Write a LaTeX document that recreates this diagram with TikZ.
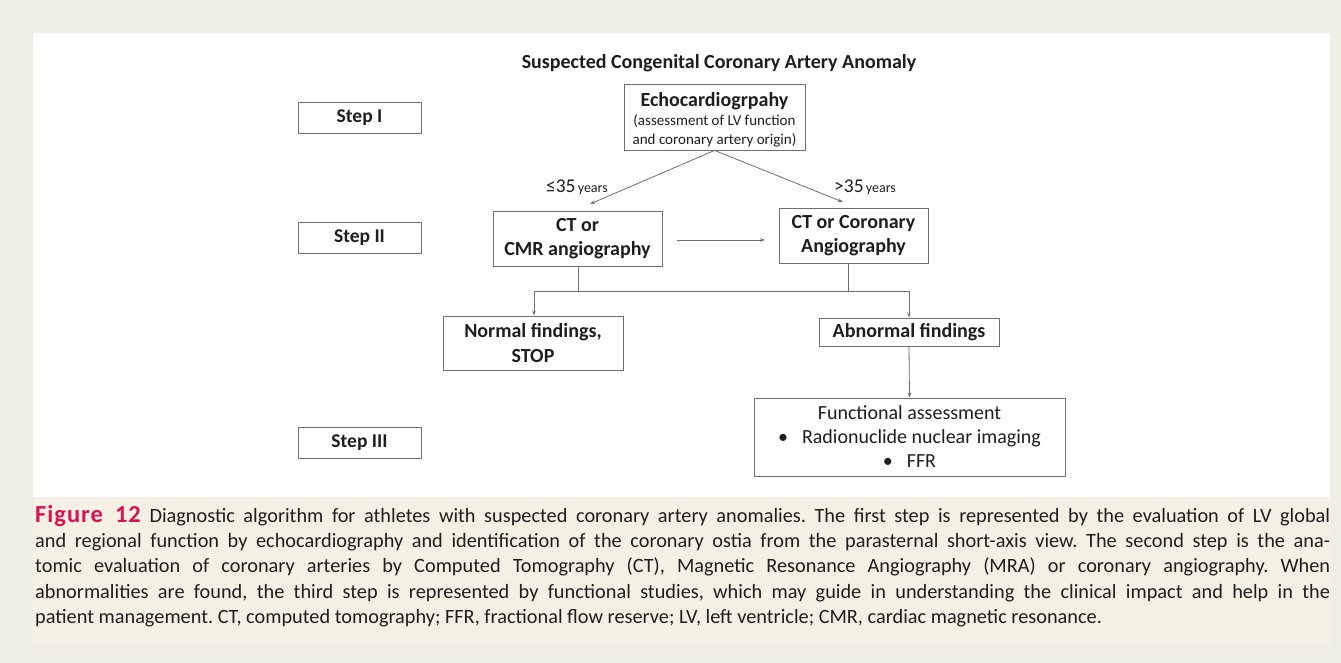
\documentclass[tikz,border=0pt]{standalone}
\usepackage{fontspec}
\setmainfont{Carlito}
\usetikzlibrary{arrows.meta}
\definecolor{outerbg}{RGB}{239,238,228}
\definecolor{capbg}{RGB}{244,241,228}
\definecolor{boxline}{RGB}{110,110,110}
\definecolor{txt}{RGB}{30,30,30}
\definecolor{figred}{RGB}{214,20,82}
\tikzset{
  box/.style={draw=boxline, line width=0.9pt, fill=white, text=txt, align=center, inner sep=0pt},
  stepbox/.style={box, minimum width=123pt, minimum height=31pt, font=\fontsize{19.5}{22}\selectfont\bfseries},
  bigbold/.style={font=\fontsize{20}{24.5}\selectfont\bfseries},
  conn/.style={draw=boxline, line width=0.8pt},
  arr/.style={conn, -{Stealth[length=5pt,width=3.5pt]}},
}
\begin{document}
\begin{tikzpicture}[x=1pt,y=-1pt]
\useasboundingbox (0,0) rectangle (1341,663);
\fill[outerbg] (0,0) rectangle (1341,663);
\fill[white] (33,33) rectangle (1330,497);
\fill[capbg] (33,497) rectangle (1331,645);

% steps
\node[stepbox] (s1) at (359.5,117.5) {Step I};
\node[stepbox] (s2) at (359.5,238) {Step II};
\node[stepbox] (s3) at (359.5,443) {Step III};

% title
\node[text=txt, font=\fontsize{20}{24}\selectfont\bfseries] (title) at (719,63) {Suspected Congenital Coronary Artery Anomaly};

% nodes
\node[box, minimum width=181pt, minimum height=66pt, font=\fontsize{15}{19}\selectfont] (echo) at (714.5,117) {};
\node[text=txt, align=center, inner sep=0pt, font=\fontsize{15}{19}\selectfont] (echotxt) at (714.5,120)
  {{\fontsize{20}{22}\selectfont\bfseries Echocardiogrpahy}\\
   (assessment of LV function\\
   and coronary artery origin)};
\node[box, minimum width=169pt, minimum height=55pt, bigbold] (cmr) at (577.5,238.5) {CT or\\CMR angiography};
\node[box, minimum width=149pt, minimum height=55pt, bigbold] (cor) at (853.5,235.5) {CT or Coronary\\Angiography};
\node[box, minimum width=180pt, minimum height=54pt, bigbold] (norm) at (533,343) {Normal findings,\\STOP};
\node[box, minimum width=180pt, minimum height=28pt, bigbold] (abn) at (909,332) {Abnormal findings};
\node[box, minimum width=311pt, minimum height=78pt, font=\fontsize{20}{24}\selectfont] (func) at (909.5,437)
  {Functional assessment\\ \textbullet\hspace{14pt}Radionuclide nuclear imaging\\ \textbullet\hspace{14pt}FFR};

% age arrows
\coordinate (la) at (590,204);
\coordinate (ra) at (843,202);
\draw[arr] (echo.south) -- (la);
\draw[arr] (echo.south) -- (ra);
\node[text=txt, anchor=base east, inner sep=0pt] (lel) at (608,193) {{\fontsize{19.5}{22}\selectfont ≤35} {\fontsize{14}{15}\selectfont years}};
\node[text=txt, anchor=base west, inner sep=0pt] (gtl) at (834,193) {{\fontsize{19.5}{22}\selectfont >35} {\fontsize{14}{15}\selectfont years}};

% horizontal arrow
\coordinate (h1) at (677,240);
\coordinate (h2) at (765,240);
\draw[arr] (h1) -- (h2);

% branch
\coordinate (j1) at (578,291);
\coordinate (j2) at (848,291);
\coordinate (jl) at (534,291);
\coordinate (jr) at (909,291);
\draw[conn] (cmr.south -| j1) -- (j1);
\draw[conn] (cor.south -| j2) -- (j2);
\draw[conn] (jl) -- (jr);
\draw[arr] (jl) -- (norm.north -| jl);
\draw[arr] (jr) -- (abn.north -| jr);
\draw[arr] (abn.south) -- (func.north);

% caption
\node[anchor=north west, text width=1295pt, align=justify, inner sep=0pt, text=txt,
  font=\fontsize{20.3}{25.3}\selectfont\frenchspacing] (cap) at (35,505)
  {{\color{figred}\bfseries\fontsize{24.5}{25.3}\selectfont\addfontfeatures{LetterSpace=4}Figure 12} Diagnostic algorithm for athletes with suspected coronary artery anomalies. The first step is represented by the evaluation of LV global\linebreak
  and regional function by echocardiography and identification of the coronary ostia from the parasternal short-axis view. The second step is the ana-\linebreak
  tomic evaluation of coronary arteries by Computed Tomography (CT), Magnetic Resonance Angiography (MRA) or coronary angiography. When\linebreak
  abnormalities are found, the third step is represented by functional studies, which may guide in understanding the clinical impact and help in the\linebreak
  patient management. CT, computed tomography; FFR, fractional flow reserve; LV, left ventricle; CMR, cardiac magnetic resonance.};
\end{tikzpicture}
\end{document}
